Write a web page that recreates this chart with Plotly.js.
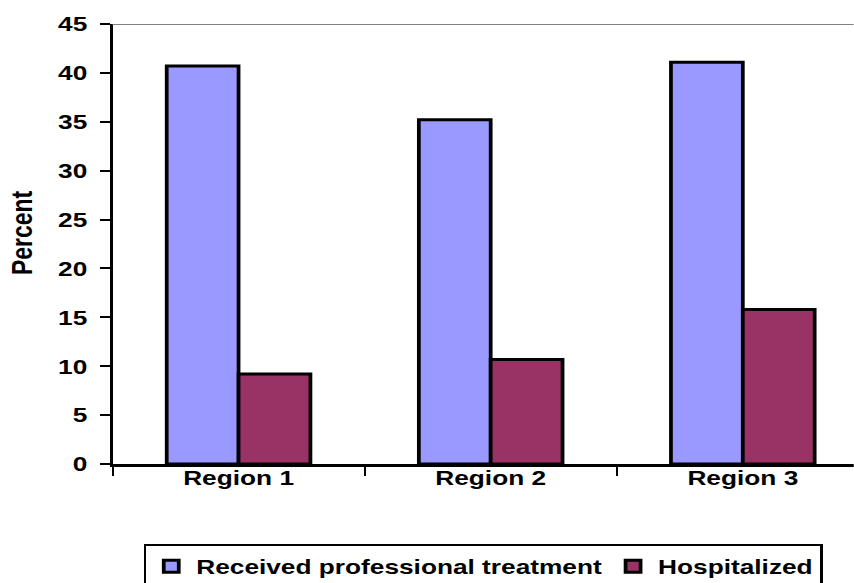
<!DOCTYPE html>
<html>
<head>
<meta charset="utf-8">
<script src="https://cdn.plot.ly/plotly-3.0.1.min.js"></script>
<style>
html,body{margin:0;padding:0;background:#fff;overflow:hidden;width:854px;height:583px;}
#chart{width:683px;height:592px;transform:scaleX(1.25);transform-origin:0 0;}
</style>
</head>
<body>
<div id="chart"></div>
<script>
const categories = ["Region 1", "Region 2", "Region 3"];
const treatedValues = [40.7, 35.2, 41.1];
const hospitalizedValues = [9.2, 10.7, 15.8];
const seriesNames = ["Received professional treatment", "Hospitalized"];
const yTickValues = [0, 5, 10, 15, 20, 25, 30, 35, 40, 45];
const yAxisTitle = "Percent";

const FONT = "Liberation Sans, Arial, sans-serif";

const traces = [
  {type: "bar", name: seriesNames[0], x: categories, y: treatedValues,
   marker: {color: "#9999FF", line: {color: "#000000", width: 3}}},
  {type: "bar", name: seriesNames[1], x: categories, y: hospitalizedValues,
   marker: {color: "#993366", line: {color: "#000000", width: 3}}}
];

const layout = {
  width: 683, height: 592,
  margin: {l: 90.4, r: 0, t: 24, b: 128},
  paper_bgcolor: "#ffffff", plot_bgcolor: "#ffffff",
  barmode: "group", bargap: 0.43, bargroupgap: 0,
  font: {family: FONT, color: "#000000"},
  showlegend: true,
  legend: {orientation: "h", x: 0.5, xanchor: "center", y: -0.182, yanchor: "top",
           bordercolor: "#000000", borderwidth: 2, bgcolor: "#ffffff",
           font: {family: FONT, size: 21, weight: "bold", color: "#000000"},
           itemwidth: 30, tracegroupgap: 0},
  xaxis: {type: "category", range: [-0.5, 2.44], tickson: "boundaries",
          ticks: "outside", ticklen: 9, tickwidth: 1.6, tickcolor: "#000000",
          showline: true, linecolor: "#000000", linewidth: 2.5,
          showgrid: false, zeroline: false, automargin: false,
          ticklabelstandoff: -7,
          tickfont: {family: FONT, size: 21, weight: "bold", color: "#000000"}},
  yaxis: {range: [0, 45], tickvals: yTickValues, ticks: "outside", ticklen: 8,
          tickwidth: 2, tickcolor: "#000000", showline: true, linecolor: "#000000",
          linewidth: 2, showgrid: false, zeroline: false, automargin: false,
          ticklabelstandoff: 6,
          tickfont: {family: FONT, size: 21, weight: "bold", color: "#000000"}},
  annotations: [{text: yAxisTitle, xref: "paper", yref: "paper", x: -0.1215, y: 0.527,
                 xanchor: "center", yanchor: "middle", textangle: -90, showarrow: false,
                 font: {family: FONT, size: 23, weight: "bold", color: "#000000"}}],
  shapes: [{type: "line", xref: "paper", yref: "y", x0: 0, x1: 1, y0: 45, y1: 45,
            line: {color: "#808080", width: 2}}]
};

Plotly.newPlot("chart", traces, layout, {displayModeBar: false, staticPlot: true});
</script>
</body>
</html>
